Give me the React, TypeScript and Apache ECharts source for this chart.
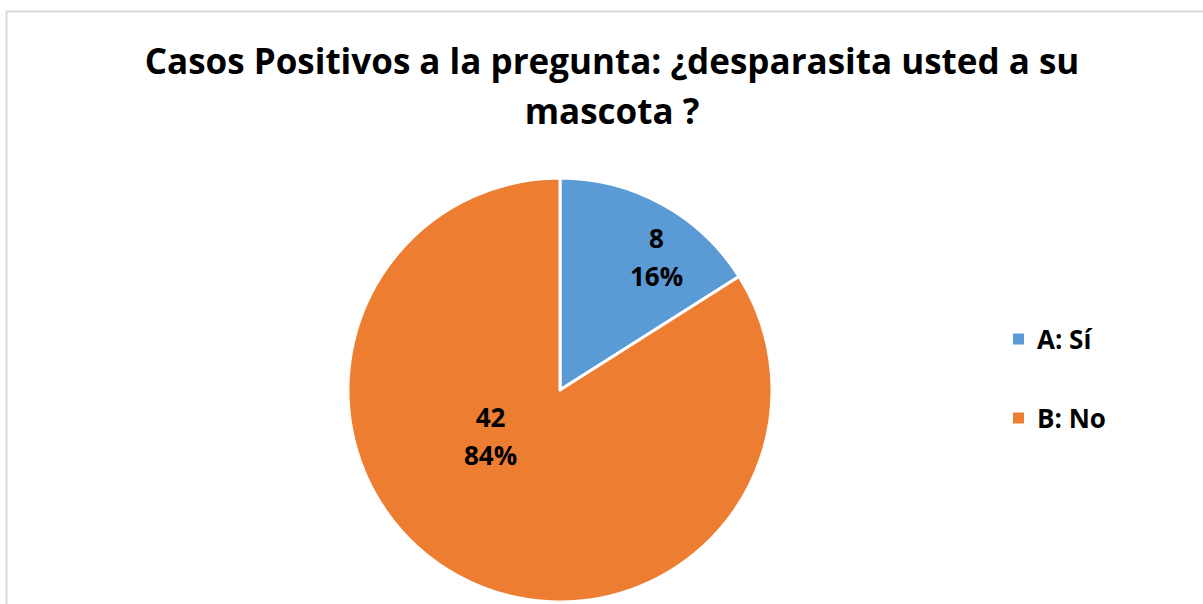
import React, { useEffect, useRef } from "react";
import * as echarts from "echarts";

const categories = ["A: Sí", "B: No"];
const values = [8, 42];
const percents = ["16%", "84%"];
const colors = ["#5B9BD5", "#ED7D31"];
const titleText = "Casos Positivos a la pregunta: ¿desparasita usted a su\nmascota ?";

export default function App() {
  const ref = useRef<HTMLDivElement>(null);
  useEffect(() => {
    if (!ref.current) return;
    const chart = echarts.init(ref.current, undefined, { renderer: "svg" });
    const labelOffsets = [[44, -37], [-17, -50]];
    chart.setOption({
      animation: false,
      backgroundColor: "#ffffff",
      graphic: [
        {
          type: "rect",
          shape: { x: 6.5, y: 11.5, width: 1220, height: 620 },
          style: { fill: "none", stroke: "#d9d9d9", lineWidth: 2 },
          z: -1,
        },
      ],
      title: {
        text: titleText,
        left: 607,
        textAlign: "center",
        top: 30,
        textStyle: {
          fontFamily: "Open Sans",
          fontWeight: "bold",
          fontSize: 35,
          lineHeight: 50,
          color: "#000000",
        },
      },
      legend: {
        orient: "vertical",
        left: 1011,
        top: 325,
        padding: 0,
        itemWidth: 13,
        itemHeight: 13,
        itemGap: 51,
        icon: "rect",
        data: categories,
        textStyle: {
          fontFamily: "Open Sans",
          fontWeight: "bold",
          fontSize: 26,
          lineHeight: 28,
          color: "#000000",
          padding: [0, 0, 0, 7],
        },
      },
      series: [
        {
          type: "pie",
          center: [560, 390],
          radius: 212,
          startAngle: 90,
          clockwise: true,
          itemStyle: { borderColor: "#ffffff", borderWidth: 3 },
          label: {
            show: true,
            position: "inside",
            fontFamily: "Open Sans",
            fontWeight: "bold",
            fontSize: 26,
            lineHeight: 38,
            color: "#000000",
          },
          labelLine: { show: false },
          emphasis: { disabled: true },
          data: categories.map((c, i) => ({
            name: c,
            value: values[i],
            itemStyle: { color: colors[i] },
            label: {
              formatter: `${values[i]}\n${percents[i]}`,
              offset: labelOffsets[i],
            },
          })),
        },
      ],
    });
    return () => chart.dispose();
  }, []);
  return (
    <div
      ref={ref}
      style={{ position: "absolute", left: 0, top: 0, width: 1203, height: 604 }}
    />
  );
}
